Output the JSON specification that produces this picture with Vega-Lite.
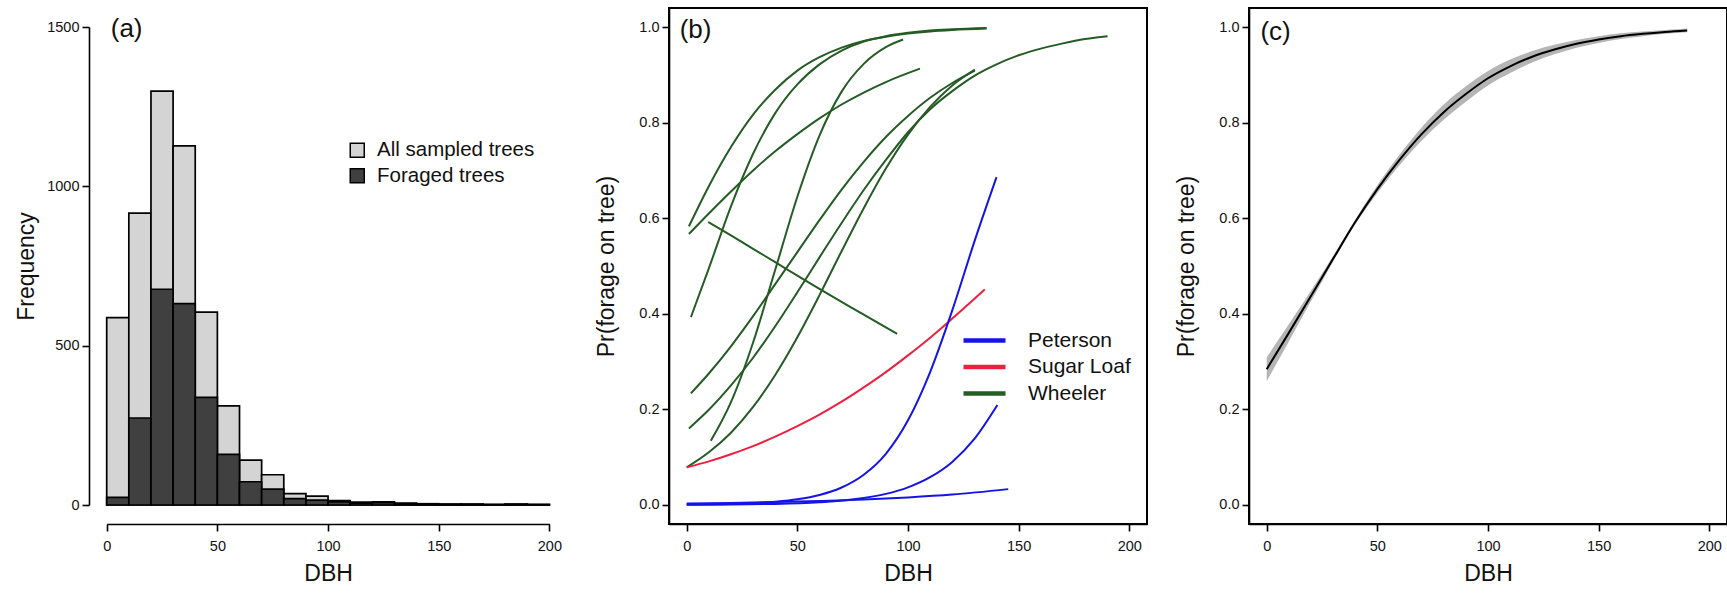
{
  "$schema": "https://vega.github.io/schema/vega-lite/v6.json",
  "background": "white",
  "padding": {"left": 15, "top": 7, "right": 5, "bottom": 5},
  "config": {
    "font": "Liberation Sans",
    "view": {"stroke": "black", "strokeWidth": 2},
    "axis": {
      "grid": false, "domainColor": "black", "domainWidth": 1.6,
      "tickColor": "black", "tickWidth": 1.6, "tickSize": 7,
      "labelFont": "Liberation Sans", "labelFontSize": 14.5, "labelColor": "#111", "labelPadding": 3,
      "titleFont": "Liberation Sans", "titleFontSize": 23, "titleFontWeight": "normal", "titleColor": "#111"
    },
    "axisX": {"labelPadding": 8, "titlePadding": 10, "labelFlush": false},
    "axisY": {"labelAngle": 0},
    "legend": {"labelFont": "Liberation Sans", "labelColor": "#111", "padding": 0, "title": null}
  },
  "datasets": {
    "hist": [
      {"lo":0,"hi":10,"n":588,"group":"All sampled trees"},
      {"lo":10,"hi":20,"n":916,"group":"All sampled trees"},
      {"lo":20,"hi":30,"n":1299,"group":"All sampled trees"},
      {"lo":30,"hi":40,"n":1127,"group":"All sampled trees"},
      {"lo":40,"hi":50,"n":605,"group":"All sampled trees"},
      {"lo":50,"hi":60,"n":311,"group":"All sampled trees"},
      {"lo":60,"hi":70,"n":141,"group":"All sampled trees"},
      {"lo":70,"hi":80,"n":95,"group":"All sampled trees"},
      {"lo":80,"hi":90,"n":36,"group":"All sampled trees"},
      {"lo":90,"hi":100,"n":28,"group":"All sampled trees"},
      {"lo":100,"hi":110,"n":14,"group":"All sampled trees"},
      {"lo":110,"hi":120,"n":9,"group":"All sampled trees"},
      {"lo":120,"hi":130,"n":10,"group":"All sampled trees"},
      {"lo":130,"hi":140,"n":6,"group":"All sampled trees"},
      {"lo":140,"hi":150,"n":4,"group":"All sampled trees"},
      {"lo":150,"hi":160,"n":3,"group":"All sampled trees"},
      {"lo":160,"hi":170,"n":3,"group":"All sampled trees"},
      {"lo":170,"hi":180,"n":2,"group":"All sampled trees"},
      {"lo":180,"hi":190,"n":3,"group":"All sampled trees"},
      {"lo":190,"hi":200,"n":2,"group":"All sampled trees"},
      {"lo":0,"hi":10,"n":24,"group":"Foraged trees"},
      {"lo":10,"hi":20,"n":273,"group":"Foraged trees"},
      {"lo":20,"hi":30,"n":677,"group":"Foraged trees"},
      {"lo":30,"hi":40,"n":632,"group":"Foraged trees"},
      {"lo":40,"hi":50,"n":338,"group":"Foraged trees"},
      {"lo":50,"hi":60,"n":159,"group":"Foraged trees"},
      {"lo":60,"hi":70,"n":73,"group":"Foraged trees"},
      {"lo":70,"hi":80,"n":50,"group":"Foraged trees"},
      {"lo":80,"hi":90,"n":20,"group":"Foraged trees"},
      {"lo":90,"hi":100,"n":15,"group":"Foraged trees"},
      {"lo":100,"hi":110,"n":10,"group":"Foraged trees"},
      {"lo":110,"hi":120,"n":6,"group":"Foraged trees"},
      {"lo":120,"hi":130,"n":7,"group":"Foraged trees"},
      {"lo":130,"hi":140,"n":4,"group":"Foraged trees"},
      {"lo":140,"hi":150,"n":3,"group":"Foraged trees"},
      {"lo":150,"hi":160,"n":2,"group":"Foraged trees"},
      {"lo":160,"hi":170,"n":2,"group":"Foraged trees"},
      {"lo":170,"hi":180,"n":1,"group":"Foraged trees"},
      {"lo":180,"hi":190,"n":2,"group":"Foraged trees"},
      {"lo":190,"hi":200,"n":1,"group":"Foraged trees"}
    ],
    "curvesB": [
      {"site":"Wheeler","curve":"W1","x":1,"p":0.583},
      {"site":"Wheeler","curve":"W1","x":10,"p":0.667},
      {"site":"Wheeler","curve":"W1","x":20,"p":0.749},
      {"site":"Wheeler","curve":"W1","x":30,"p":0.817},
      {"site":"Wheeler","curve":"W1","x":40,"p":0.869},
      {"site":"Wheeler","curve":"W1","x":50,"p":0.909},
      {"site":"Wheeler","curve":"W1","x":60,"p":0.937},
      {"site":"Wheeler","curve":"W1","x":70,"p":0.957},
      {"site":"Wheeler","curve":"W1","x":80,"p":0.971},
      {"site":"Wheeler","curve":"W1","x":90,"p":0.980},
      {"site":"Wheeler","curve":"W1","x":100,"p":0.9865},
      {"site":"Wheeler","curve":"W1","x":110,"p":0.991},
      {"site":"Wheeler","curve":"W1","x":120,"p":0.994},
      {"site":"Wheeler","curve":"W1","x":135.5,"p":0.997},
      {"site":"Wheeler","curve":"W2","x":1,"p":0.567},
      {"site":"Wheeler","curve":"W2","x":10,"p":0.610},
      {"site":"Wheeler","curve":"W2","x":20,"p":0.656},
      {"site":"Wheeler","curve":"W2","x":30,"p":0.700},
      {"site":"Wheeler","curve":"W2","x":40,"p":0.740},
      {"site":"Wheeler","curve":"W2","x":50,"p":0.776},
      {"site":"Wheeler","curve":"W2","x":60,"p":0.809},
      {"site":"Wheeler","curve":"W2","x":70,"p":0.838},
      {"site":"Wheeler","curve":"W2","x":80,"p":0.863},
      {"site":"Wheeler","curve":"W2","x":90,"p":0.885},
      {"site":"Wheeler","curve":"W2","x":105.4,"p":0.913},
      {"site":"Wheeler","curve":"W3","x":1.9,"p":0.393},
      {"site":"Wheeler","curve":"W3","x":10,"p":0.495},
      {"site":"Wheeler","curve":"W3","x":20,"p":0.625},
      {"site":"Wheeler","curve":"W3","x":30,"p":0.735},
      {"site":"Wheeler","curve":"W3","x":40,"p":0.820},
      {"site":"Wheeler","curve":"W3","x":50,"p":0.880},
      {"site":"Wheeler","curve":"W3","x":60,"p":0.922},
      {"site":"Wheeler","curve":"W3","x":70,"p":0.951},
      {"site":"Wheeler","curve":"W3","x":80,"p":0.970},
      {"site":"Wheeler","curve":"W3","x":90,"p":0.981},
      {"site":"Wheeler","curve":"W3","x":100,"p":0.988},
      {"site":"Wheeler","curve":"W3","x":110,"p":0.993},
      {"site":"Wheeler","curve":"W3","x":120,"p":0.9955},
      {"site":"Wheeler","curve":"W3","x":135.5,"p":0.998},
      {"site":"Wheeler","curve":"W4","x":9.7,"p":0.592},
      {"site":"Wheeler","curve":"W4","x":20,"p":0.564},
      {"site":"Wheeler","curve":"W4","x":30,"p":0.536},
      {"site":"Wheeler","curve":"W4","x":40,"p":0.508},
      {"site":"Wheeler","curve":"W4","x":50,"p":0.480},
      {"site":"Wheeler","curve":"W4","x":60,"p":0.452},
      {"site":"Wheeler","curve":"W4","x":70,"p":0.425},
      {"site":"Wheeler","curve":"W4","x":80,"p":0.398},
      {"site":"Wheeler","curve":"W4","x":95.1,"p":0.358},
      {"site":"Wheeler","curve":"W5","x":10.9,"p":0.134},
      {"site":"Wheeler","curve":"W5","x":20,"p":0.215},
      {"site":"Wheeler","curve":"W5","x":30,"p":0.340},
      {"site":"Wheeler","curve":"W5","x":40,"p":0.492},
      {"site":"Wheeler","curve":"W5","x":50,"p":0.645},
      {"site":"Wheeler","curve":"W5","x":60,"p":0.773},
      {"site":"Wheeler","curve":"W5","x":70,"p":0.865},
      {"site":"Wheeler","curve":"W5","x":80,"p":0.923},
      {"site":"Wheeler","curve":"W5","x":90,"p":0.958},
      {"site":"Wheeler","curve":"W5","x":97.8,"p":0.974},
      {"site":"Wheeler","curve":"W6","x":1.9,"p":0.2335},
      {"site":"Wheeler","curve":"W6","x":10,"p":0.275},
      {"site":"Wheeler","curve":"W6","x":20,"p":0.332},
      {"site":"Wheeler","curve":"W6","x":30,"p":0.395},
      {"site":"Wheeler","curve":"W6","x":40,"p":0.462},
      {"site":"Wheeler","curve":"W6","x":50,"p":0.529},
      {"site":"Wheeler","curve":"W6","x":60,"p":0.596},
      {"site":"Wheeler","curve":"W6","x":70,"p":0.660},
      {"site":"Wheeler","curve":"W6","x":80,"p":0.718},
      {"site":"Wheeler","curve":"W6","x":90,"p":0.770},
      {"site":"Wheeler","curve":"W6","x":100,"p":0.814},
      {"site":"Wheeler","curve":"W6","x":110,"p":0.852},
      {"site":"Wheeler","curve":"W6","x":120,"p":0.883},
      {"site":"Wheeler","curve":"W6","x":130.2,"p":0.909},
      {"site":"Wheeler","curve":"W7","x":1,"p":0.160},
      {"site":"Wheeler","curve":"W7","x":10,"p":0.199},
      {"site":"Wheeler","curve":"W7","x":20,"p":0.250},
      {"site":"Wheeler","curve":"W7","x":30,"p":0.308},
      {"site":"Wheeler","curve":"W7","x":40,"p":0.374},
      {"site":"Wheeler","curve":"W7","x":50,"p":0.445},
      {"site":"Wheeler","curve":"W7","x":60,"p":0.518},
      {"site":"Wheeler","curve":"W7","x":70,"p":0.590},
      {"site":"Wheeler","curve":"W7","x":80,"p":0.659},
      {"site":"Wheeler","curve":"W7","x":90,"p":0.722},
      {"site":"Wheeler","curve":"W7","x":100,"p":0.780},
      {"site":"Wheeler","curve":"W7","x":110,"p":0.828},
      {"site":"Wheeler","curve":"W7","x":120,"p":0.866},
      {"site":"Wheeler","curve":"W7","x":130,"p":0.898},
      {"site":"Wheeler","curve":"W7","x":140,"p":0.922},
      {"site":"Wheeler","curve":"W7","x":150,"p":0.941},
      {"site":"Wheeler","curve":"W7","x":160,"p":0.955},
      {"site":"Wheeler","curve":"W7","x":170,"p":0.966},
      {"site":"Wheeler","curve":"W7","x":180,"p":0.975},
      {"site":"Wheeler","curve":"W7","x":190.2,"p":0.981},
      {"site":"Wheeler","curve":"W8","x":0,"p":0.0785},
      {"site":"Wheeler","curve":"W8","x":10,"p":0.110},
      {"site":"Wheeler","curve":"W8","x":20,"p":0.151},
      {"site":"Wheeler","curve":"W8","x":30,"p":0.205},
      {"site":"Wheeler","curve":"W8","x":40,"p":0.272},
      {"site":"Wheeler","curve":"W8","x":50,"p":0.351},
      {"site":"Wheeler","curve":"W8","x":60,"p":0.439},
      {"site":"Wheeler","curve":"W8","x":70,"p":0.531},
      {"site":"Wheeler","curve":"W8","x":80,"p":0.621},
      {"site":"Wheeler","curve":"W8","x":90,"p":0.704},
      {"site":"Wheeler","curve":"W8","x":100,"p":0.775},
      {"site":"Wheeler","curve":"W8","x":110,"p":0.833},
      {"site":"Wheeler","curve":"W8","x":120,"p":0.878},
      {"site":"Wheeler","curve":"W8","x":130.2,"p":0.911},
      {"site":"Sugar Loaf","curve":"S1","x":0,"p":0.0785},
      {"site":"Sugar Loaf","curve":"S1","x":10,"p":0.091},
      {"site":"Sugar Loaf","curve":"S1","x":20,"p":0.106},
      {"site":"Sugar Loaf","curve":"S1","x":30,"p":0.123},
      {"site":"Sugar Loaf","curve":"S1","x":40,"p":0.143},
      {"site":"Sugar Loaf","curve":"S1","x":50,"p":0.165},
      {"site":"Sugar Loaf","curve":"S1","x":60,"p":0.189},
      {"site":"Sugar Loaf","curve":"S1","x":70,"p":0.216},
      {"site":"Sugar Loaf","curve":"S1","x":80,"p":0.246},
      {"site":"Sugar Loaf","curve":"S1","x":90,"p":0.278},
      {"site":"Sugar Loaf","curve":"S1","x":100,"p":0.313},
      {"site":"Sugar Loaf","curve":"S1","x":110,"p":0.350},
      {"site":"Sugar Loaf","curve":"S1","x":120,"p":0.390},
      {"site":"Sugar Loaf","curve":"S1","x":134.7,"p":0.451},
      {"site":"Peterson","curve":"P1","x":0,"p":0.0007},
      {"site":"Peterson","curve":"P1","x":20,"p":0.002},
      {"site":"Peterson","curve":"P1","x":40,"p":0.0066},
      {"site":"Peterson","curve":"P1","x":50,"p":0.0117},
      {"site":"Peterson","curve":"P1","x":60,"p":0.0207},
      {"site":"Peterson","curve":"P1","x":70,"p":0.0364},
      {"site":"Peterson","curve":"P1","x":80,"p":0.0632},
      {"site":"Peterson","curve":"P1","x":90,"p":0.107},
      {"site":"Peterson","curve":"P1","x":100,"p":0.177},
      {"site":"Peterson","curve":"P1","x":110,"p":0.278},
      {"site":"Peterson","curve":"P1","x":120,"p":0.407},
      {"site":"Peterson","curve":"P1","x":130,"p":0.551},
      {"site":"Peterson","curve":"P1","x":140,"p":0.686},
      {"site":"Peterson","curve":"P2","x":0,"p":0.0003},
      {"site":"Peterson","curve":"P2","x":40,"p":0.0021},
      {"site":"Peterson","curve":"P2","x":60,"p":0.0055},
      {"site":"Peterson","curve":"P2","x":80,"p":0.0143},
      {"site":"Peterson","curve":"P2","x":90,"p":0.023},
      {"site":"Peterson","curve":"P2","x":100,"p":0.0367},
      {"site":"Peterson","curve":"P2","x":110,"p":0.058},
      {"site":"Peterson","curve":"P2","x":120,"p":0.090},
      {"site":"Peterson","curve":"P2","x":130,"p":0.138},
      {"site":"Peterson","curve":"P2","x":140.4,"p":0.209},
      {"site":"Peterson","curve":"P3","x":0,"p":0.003},
      {"site":"Peterson","curve":"P3","x":20,"p":0.0042},
      {"site":"Peterson","curve":"P3","x":40,"p":0.0058},
      {"site":"Peterson","curve":"P3","x":60,"p":0.0081},
      {"site":"Peterson","curve":"P3","x":80,"p":0.0112},
      {"site":"Peterson","curve":"P3","x":100,"p":0.0156},
      {"site":"Peterson","curve":"P3","x":120,"p":0.0216},
      {"site":"Peterson","curve":"P3","x":145.3,"p":0.033}
    ],
    "curveC": [
      {"x":0,"p":0.284,"lo":0.259,"hi":0.309},
      {"x":10,"p":0.360,"lo":0.342,"hi":0.378},
      {"x":20,"p":0.437,"lo":0.426,"hi":0.448},
      {"x":30,"p":0.515,"lo":0.509,"hi":0.521},
      {"x":40,"p":0.592,"lo":0.587,"hi":0.597},
      {"x":50,"p":0.661,"lo":0.653,"hi":0.669},
      {"x":60,"p":0.722,"lo":0.711,"hi":0.733},
      {"x":70,"p":0.776,"lo":0.762,"hi":0.790},
      {"x":80,"p":0.822,"lo":0.806,"hi":0.838},
      {"x":90,"p":0.860,"lo":0.844,"hi":0.876},
      {"x":100,"p":0.893,"lo":0.878,"hi":0.908},
      {"x":110,"p":0.918,"lo":0.904,"hi":0.932},
      {"x":120,"p":0.938,"lo":0.926,"hi":0.950},
      {"x":130,"p":0.953,"lo":0.943,"hi":0.963},
      {"x":140,"p":0.965,"lo":0.957,"hi":0.973},
      {"x":150,"p":0.974,"lo":0.967,"hi":0.981},
      {"x":160,"p":0.981,"lo":0.975,"hi":0.987},
      {"x":170,"p":0.986,"lo":0.981,"hi":0.991},
      {"x":180,"p":0.990,"lo":0.986,"hi":0.994},
      {"x":190,"p":0.993,"lo":0.989,"hi":0.997}
    ]
  },
  "hconcat": [
    {
      "width": 478, "height": 516,
      "view": {"stroke": null},
      "layer": [
        {
          "data": {"name": "hist"},
          "mark": {"type": "rect", "stroke": "black", "strokeWidth": 1.7},
          "encoding": {
            "x": {"field": "lo", "type": "quantitative",
                  "scale": {"domain": [0, 200], "range": [17.7, 460.4], "nice": false, "zero": false},
                  "axis": {"values": [0, 50, 100, 150, 200], "title": "DBH"}},
            "x2": {"field": "hi"},
            "y": {"field": "n", "type": "quantitative", "stack": null,
                  "scale": {"domain": [0, 1500], "range": [497, 19], "nice": false},
                  "axis": {"values": [0, 500, 1000, 1500], "format": "d", "title": "Frequency", "titlePadding": 8}},
            "y2": {"datum": 0},
            "color": {"field": "group", "type": "nominal",
                      "scale": {"domain": ["All sampled trees", "Foraged trees"], "range": ["#d4d4d4", "#404040"]},
                      "legend": {"orient": "none", "legendX": 258, "legendY": 132,
                                 "symbolType": "square", "symbolSize": 196, "symbolStrokeColor": "black",
                                 "symbolStrokeWidth": 1.5, "labelFontSize": 20.5, "labelOffset": 9.5,
                                 "rowPadding": 4.5}}
          }
        },
        {
          "data": {"values": [{"label": "(a)", "x": 9, "y": 1495}]},
          "mark": {"type": "text", "fontSize": 26, "align": "center", "baseline": "middle", "color": "#111"},
          "encoding": {
            "x": {"field": "x", "type": "quantitative"},
            "y": {"field": "y", "type": "quantitative"},
            "text": {"field": "label"}
          }
        }
      ]
    },
    {
      "width": 478, "height": 516,
      "layer": [
        {
          "data": {"name": "curvesB"},
          "mark": {"type": "line", "strokeWidth": 2, "interpolate": "monotone"},
          "encoding": {
            "x": {"field": "x", "type": "quantitative",
                  "scale": {"domain": [-8, 208], "nice": false, "zero": false},
                  "axis": {"values": [0, 50, 100, 150, 200], "title": "DBH"}},
            "y": {"field": "p", "type": "quantitative",
                  "scale": {"domain": [-0.04, 1.04], "nice": false, "zero": false},
                  "axis": {"values": [0, 0.2, 0.4, 0.6, 0.8, 1], "format": ".1f", "title": "Pr(forage on tree)", "titlePadding": 20}},
            "color": {"field": "site", "type": "nominal",
                      "scale": {"domain": ["Peterson", "Sugar Loaf", "Wheeler"], "range": ["#1414e6", "#ee2040", "#245c24"]},
                      "legend": {"orient": "none", "legendX": 305, "legendY": 322,
                                 "symbolType": "M-5,0H5", "symbolSize": 70.6, "symbolStrokeWidth": 4.5,
                                 "labelFontSize": 21, "labelOffset": 33, "rowPadding": 4.5}},
            "detail": {"field": "curve"}
          }
        },
        {
          "data": {"values": [{"label": "(b)", "x": 4, "y": 0.995}]},
          "mark": {"type": "text", "fontSize": 26, "align": "center", "baseline": "middle", "color": "#111"},
          "encoding": {
            "x": {"field": "x", "type": "quantitative"},
            "y": {"field": "y", "type": "quantitative"},
            "text": {"field": "label"}
          }
        }
      ]
    },
    {
      "width": 478, "height": 516,
      "layer": [
        {
          "data": {"name": "curveC"},
          "mark": {"type": "area", "color": "#b5b5b5", "interpolate": "monotone"},
          "encoding": {
            "x": {"field": "x", "type": "quantitative",
                  "scale": {"domain": [-8, 208], "nice": false, "zero": false},
                  "axis": {"values": [0, 50, 100, 150, 200], "title": "DBH"}},
            "y": {"field": "lo", "type": "quantitative",
                  "scale": {"domain": [-0.04, 1.04], "nice": false, "zero": false},
                  "axis": {"values": [0, 0.2, 0.4, 0.6, 0.8, 1], "format": ".1f", "title": "Pr(forage on tree)", "titlePadding": 20}},
            "y2": {"field": "hi"}
          }
        },
        {
          "data": {"name": "curveC"},
          "mark": {"type": "line", "color": "black", "strokeWidth": 2, "interpolate": "monotone"},
          "encoding": {
            "x": {"field": "x", "type": "quantitative"},
            "y": {"field": "p", "type": "quantitative"}
          }
        },
        {
          "data": {"values": [{"label": "(c)", "x": 4, "y": 0.99}]},
          "mark": {"type": "text", "fontSize": 26, "align": "center", "baseline": "middle", "color": "#111"},
          "encoding": {
            "x": {"field": "x", "type": "quantitative"},
            "y": {"field": "y", "type": "quantitative"},
            "text": {"field": "label"}
          }
        }
      ]
    }
  ],
  "spacing": 102,
  "bounds": "flush",
  "resolve": {"scale": {"color": "independent", "x": "independent", "y": "independent"}}
}
